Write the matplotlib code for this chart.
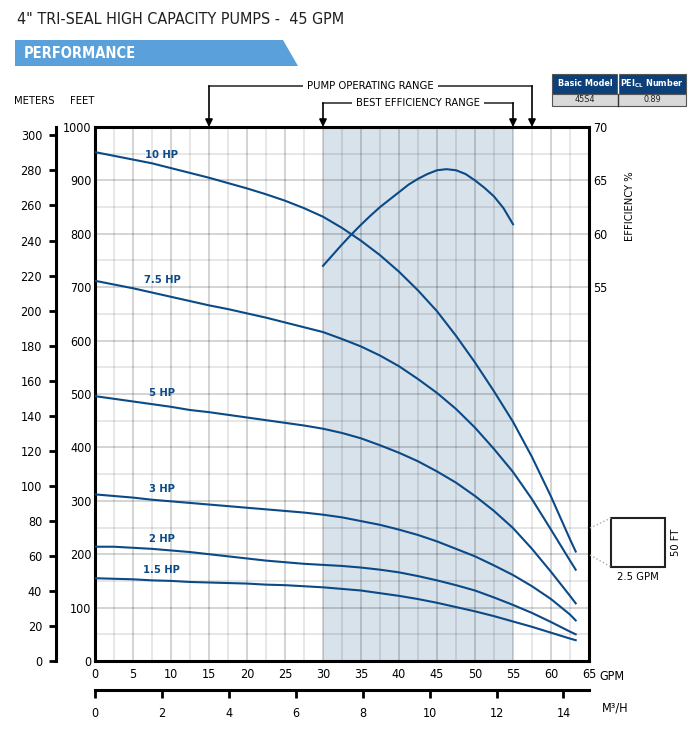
import matplotlib
matplotlib.use("Agg")
import matplotlib.pyplot as plt
from matplotlib.patches import Polygon, Rectangle
from matplotlib.lines import Line2D

plt.rcParams['font.family'] = ['DejaVu Sans']
plt.rcParams['font.stretch'] = 'condensed'

# ---- data ----
gpm = [0, 2.5, 5, 7.5, 10, 12.5, 15, 17.5, 20, 22.5, 25, 27.5, 30, 32.5,
       35, 37.5, 40, 42.5, 45, 47.5, 50, 52.5, 55, 57.5, 60, 62.5, 63.25]
head_10hp = [953, 946, 939, 932, 923, 914, 905, 895, 885, 874, 862, 848, 832, 811,
             787, 760, 729, 694, 655, 609, 559, 505, 448, 382, 308, 228, 205]
head_75hp = [712, 705, 698, 690, 682, 674, 666, 659, 651, 643, 634, 625, 616, 603,
             589, 572, 552, 528, 502, 472, 437, 397, 354, 303, 246, 188, 171]
head_5hp = [496, 491, 486, 481, 476, 470, 466, 461, 456, 451, 446, 441, 435, 427,
            417, 404, 390, 374, 355, 334, 309, 281, 249, 210, 167, 122, 108]
head_3hp = [312, 309, 306, 302, 299, 296, 293, 290, 287, 284, 281, 278, 274, 269,
            262, 255, 246, 236, 224, 210, 196, 179, 161, 140, 116, 87, 76]
head_2hp = [214, 214, 212, 210, 207, 204, 200, 196, 192, 188, 185, 182, 180, 178,
            175, 171, 166, 159, 151, 142, 132, 119, 105, 90, 73, 55, 50]
head_15hp = [155, 154, 153, 151, 150, 148, 147, 146, 145, 143, 142, 140, 138, 135,
             132, 127, 122, 116, 109, 101, 93, 84, 74, 64, 53, 42, 39]

curves = [
    ("10 HP", head_10hp, 947),
    ("7.5 HP", head_75hp, 713),
    ("5 HP", head_5hp, 502),
    ("3 HP", head_3hp, 322),
    ("2 HP", head_2hp, 228),
    ("1.5 HP", head_15hp, 170),
]

eff_gpm = [30, 31.25, 32.5, 33.75, 35, 36.25, 37.5, 38.75, 40, 41.25, 42.5,
           43.75, 45, 46.25, 47.5, 48.75, 50, 51.25, 52.5, 53.75, 55]
eff_pct = [57.0, 58.0, 59.0, 59.95, 60.85, 61.7, 62.5, 63.2, 63.9, 64.6, 65.15,
           65.6, 65.95, 66.05, 65.95, 65.6, 65.0, 64.3, 63.5, 62.4, 60.9]

op_range = (15, 57.5)
bep_range = (30, 55)

gpm_to_m3h = 0.227125
ft_to_m = 0.3048

navy = '#0b4a86'
W, H = 700, 732
fs = 9


def fx(x):
    return x / W


def fy(y):
    return 1 - y / H


fig = plt.figure(figsize=(7, 7.32), dpi=100)

# main axes
ax_l, ax_r, ax_t, ax_b = 95, 589, 127, 661
ax = fig.add_axes([fx(ax_l), fy(ax_b), (ax_r - ax_l) / W, (ax_b - ax_t) / H])
ax.set_xlim(0, 65)
ax.set_ylim(0, 1000)
ax.set_xticks(range(0, 66, 5))
ax.set_xticks([x + 2.5 for x in range(0, 65, 5)], minor=True)
ax.set_yticks(range(0, 1001, 100))
ax.set_yticks(range(50, 1000, 100), minor=True)
ax.tick_params(which='both', length=0)
ax.tick_params(axis='y', pad=2.5, labelsize=fs)
ax.tick_params(axis='x', pad=5, labelsize=fs)
ax.grid(which='major', color='black', alpha=0.18, lw=1.3)
ax.grid(which='minor', color='black', alpha=0.1, lw=1.3)
ax.set_axisbelow(True)
for s in ax.spines.values():
    s.set_linewidth(2.2)
ax.axvspan(*bep_range, color='#d8e2eb', zorder=0.2, lw=0)

for name, head, ly in curves:
    ax.plot(gpm, head, color=navy, lw=1.5, zorder=3)
    ax.text(8.8, ly, name, color=navy, fontsize=8, fontweight='bold',
            ha='center', va='center', zorder=4)

# efficiency axis
ax2 = ax.twinx()
ax2.set_ylim(20, 70)
ax2.set_yticks([55, 60, 65, 70])
ax2.tick_params(length=0, pad=3, labelsize=fs)
for s in ax2.spines.values():
    s.set_visible(False)
ax2.plot(eff_gpm, eff_pct, color=navy, lw=1.5, zorder=3)
fig.text(fx(630), fy(206), "EFFICIENCY %", rotation=90, ha='center', va='center', fontsize=8)

# meters axis
axm = fig.add_axes([fx(56), fy(ax_b), 0.0005, (ax_b - ax_t) / H])
axm.set_ylim(0, 1000 * ft_to_m)
axm.set_yticks(range(0, 301, 20))
axm.set_xticks([])
for k in ['top', 'right', 'bottom']:
    axm.spines[k].set_visible(False)
axm.spines['left'].set_linewidth(2.2)
axm.tick_params(axis='y', direction='out', length=5, width=2, pad=5, labelsize=fs)
axm.patch.set_visible(False)

fig.text(fx(34), fy(101), "METERS", ha='center', va='center', fontsize=8)
fig.text(fx(82), fy(101), "FEET", ha='center', va='center', fontsize=8)
fig.text(fx(612), fy(676), "GPM", ha='center', va='center', fontsize=fs)

# m3/h axis
axq = fig.add_axes([fx(ax_l), fy(690), (ax_r - ax_l) / W, 0.0005])
axq.set_xlim(0, 65 * gpm_to_m3h)
axq.set_xticks(range(0, 15, 2))
axq.set_yticks([])
for k in ['top', 'right', 'left']:
    axq.spines[k].set_visible(False)
axq.spines['bottom'].set_linewidth(2.2)
axq.tick_params(axis='x', direction='out', length=6, width=2, pad=6, labelsize=fs)
axq.patch.set_visible(False)
fig.text(fx(615), fy(708), "M³/H", ha='center', va='center', fontsize=fs)

# range brackets
xt = ax.get_xaxis_transform()
line_col = '#333333'
for rng, yb, label in [(op_range, 1.0768, "PUMP OPERATING RANGE"),
                       (bep_range, 1.045, "BEST EFFICIENCY RANGE")]:
    ax.plot(rng, [yb, yb], transform=xt, color=line_col, lw=1.2, clip_on=False)
    for xv in rng:
        ax.annotate('', xy=(xv, 1.0), xytext=(xv, yb), xycoords=xt, textcoords=xt,
                    arrowprops=dict(arrowstyle='-|>', color='black', lw=1.2,
                                    mutation_scale=11, shrinkA=0, shrinkB=0))
    ax.text(sum(rng) / 2, yb, label, transform=xt, ha='center', va='center',
            fontsize=8, clip_on=False,
            bbox=dict(boxstyle='square,pad=0.35', fc='white', ec='none'))

# title and banner
fig.text(fx(17), fy(19), '4" TRI-SEAL HIGH CAPACITY PUMPS -  45 GPM', ha='left', va='center',
         fontsize=11.5, color='#231f20')
fig.patches.append(Polygon([(fx(15), fy(40)), (fx(283), fy(40)), (fx(298), fy(66)), (fx(15), fy(66))],
                           closed=True, transform=fig.transFigure, fc='#5aa1db', ec='none'))
fig.text(fx(24), fy(53.5), "PERFORMANCE", ha='left', va='center', fontsize=10.5,
         color='white', fontweight='bold')

# model table
tl, tm, tr = 552, 618, 686
tt, th, tb = 74, 94, 106
fig.patches.append(Rectangle((fx(tl), fy(th)), (tr - tl) / W, (th - tt) / H,
                             transform=fig.transFigure, fc='#0d3f78', ec='#555555', lw=0.8))
fig.patches.append(Rectangle((fx(tl), fy(tb)), (tr - tl) / W, (tb - th) / H,
                             transform=fig.transFigure, fc='#d9d9d9', ec='#555555', lw=0.8))
fig.add_artist(Line2D([fx(tm), fx(tm)], [fy(tt), fy(th)], color='white', lw=1))
fig.add_artist(Line2D([fx(tm), fx(tm)], [fy(th), fy(tb)], color='#333333', lw=1))
fig.text(fx((tl + tm) / 2), fy(84), "Basic Model", ha='center', va='center', fontsize=6.5,
         color='white', fontweight='bold')
fig.text(fx((tm + tr) / 2), fy(84), r"PEI$_{\mathregular{CL}}$ Number", ha='center', va='center',
         fontsize=6.5, color='white', fontweight='bold')
fig.text(fx((tl + tm) / 2), fy(100), "45S4", ha='center', va='center', fontsize=6.5, color='#222222')
fig.text(fx((tm + tr) / 2), fy(100), "0.89", ha='center', va='center', fontsize=6.5, color='#222222')

# scale key
fig.patches.append(Rectangle((fx(611), fy(567)), 54 / W, 49 / H, transform=fig.transFigure,
                             fc='white', ec='#222222', lw=1.5))
fig.add_artist(Line2D([fx(590), fx(611)], [fy(528), fy(518)], color='#aaaaaa', lw=1, ls=':'))
fig.add_artist(Line2D([fx(590), fx(611)], [fy(555), fy(567)], color='#aaaaaa', lw=1, ls=':'))
fig.text(fx(638), fy(577), "2.5 GPM", ha='center', va='center', fontsize=8)
fig.text(fx(676), fy(542), "50 FT", ha='center', va='center', fontsize=8, rotation=90)

fig.savefig("out.png", dpi=100)
